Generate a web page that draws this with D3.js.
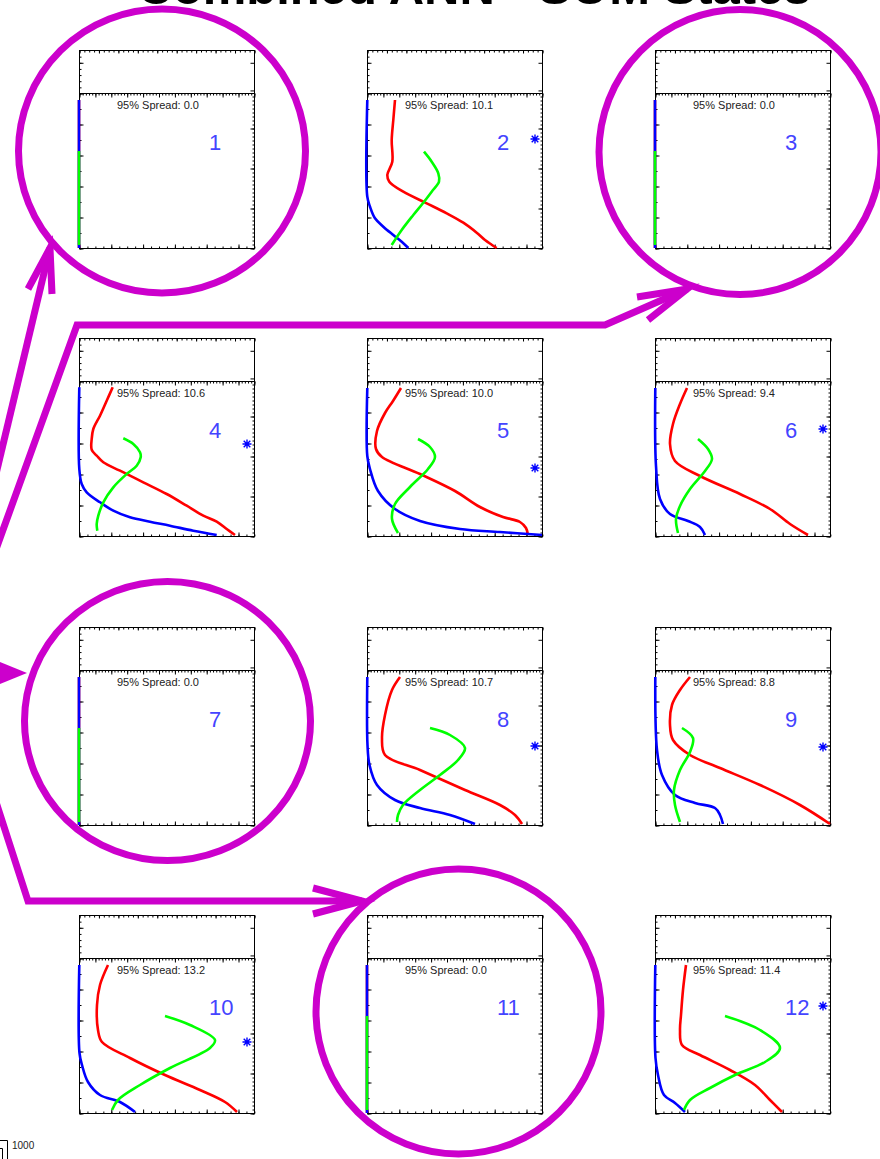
<!DOCTYPE html>
<html><head><meta charset="utf-8">
<script src="https://cdn.jsdelivr.net/npm/d3@7"></script>
<style>body{margin:0;background:#fff}svg{display:block}</style>
</head><body>
<script>
// ---------------- data ----------------
const titleText = "Combined ANN - SOM States";
const panelNumbers = [1,2,3,4,5,6,7,8,9,10,11,12];
const spreadValues = [0.0,10.1,0.0,10.6,10.0,9.4,0.0,10.7,8.8,13.2,0.0,11.4];
const markerHeights = [null,10.9,null,9.2,6.8,10.7,null,7.9,7.8,7.1,null,10.7];
const markerX = 16.8;
const xDomain = [0,17.5];
const yDomain = [0,15.5];
const topBoxDomain = [0,7];
const cornerLabel = "1000";

const flatRed = [[0,14.8],[0,0]];
const flatBlue = [[0,14.8],[0,0]];
const flatGreen = [[0,9.7],[0,0.3]];

const redProfiles = [
  flatRed,
  [[2.8,14.8],[2.63,12.8],[2.47,10.8],[2.53,8.63],[2.03,7.3],[2.23,6.63],[3.63,5.63],[5.97,4.47],[7.97,3.47],[9.63,2.53],[10.97,1.53],[11.8,0.8],[12.47,0.33],[12.97,0]],
  flatRed,
  [[3.37,14.87],[2.77,13.53],[2.1,12.03],[1.43,10.7],[1.27,9.7],[1.27,8.63],[1.77,8.03],[2.43,7.37],[4.1,6.53],[6.43,5.37],[8.77,4.2],[10.77,3.03],[12.43,2.03],[13.77,1.43],[14.77,0.7],[15.6,0.1]],
  [[3.4,14.8],[2.6,13.5],[1.8,12.3],[1.0,10.5],[0.9,8.7],[1.5,7.9],[5.3,6.2],[8.8,4.5],[11.3,2.9],[13.6,1.9],[15.3,1.4],[15.9,0.8],[16.1,0.1]],
  [[3.2,14.8],[2.5,13.2],[1.8,11.2],[1.5,9.2],[2.0,7.5],[4.5,6.0],[8.5,4.2],[11.5,2.7],[13.5,1.2],[15.3,0.1]],
  flatRed,
  [[3.3,14.8],[2.5,13.5],[1.8,11.0],[1.5,8.7],[1.8,7.0],[5.3,5.5],[9.8,3.5],[13.3,2.0],[14.8,1.0],[15.5,0.1]],
  [[3.5,14.8],[2.5,13.5],[1.7,12.0],[1.5,10.0],[1.8,8.5],[3.5,7.0],[6.5,5.7],[10.5,4.0],[14.5,2.0],[17.5,0.1]],
  [[2.9,14.8],[2.1,12.8],[1.8,10.8],[1.9,8.3],[2.3,7.1],[5.1,5.5],[8.6,3.8],[12.1,2.3],[14.6,1.1],[15.8,0.1]],
  flatRed,
  [[3.1,14.8],[2.8,12.3],[2.6,9.8],[2.5,8.3],[2.7,6.8],[4.5,5.8],[7.5,4.3],[10.0,2.8],[11.5,1.3],[12.7,0.1]]
];

const blueProfiles = [
  flatBlue,
  [[0.03,14.8],[0.03,5.13],[0.3,4.13],[0.8,2.97],[1.63,2.13],[2.63,1.3],[3.47,0.63],[4.13,0]],
  flatBlue,
  [[0.03,14.87],[0.03,6.7],[0.27,5.2],[0.77,4.37],[2.1,3.37],[3.43,2.53],[5.1,1.87],[7.1,1.43],[9.1,1.03],[11.43,0.53],[13.77,0.1]],
  [[0.03,14.8],[0.03,8.0],[0.3,6.7],[1.1,4.5],[2.8,2.7],[5.3,1.5],[9.3,0.7],[13.3,0.4],[17.5,0.1]],
  [[0.03,14.8],[0.1,7.0],[0.5,3.7],[1.5,2.2],[3.3,1.5],[4.5,0.9],[5.0,0.1]],
  flatBlue,
  [[0.03,14.8],[0.05,8.0],[0.25,6.0],[1.0,4.0],[2.8,2.5],[5.3,1.7],[8.3,1.0],[10.8,0.1]],
  [[0.03,14.8],[0.2,7.5],[0.7,5.0],[2.0,3.0],[4.0,2.2],[6.0,1.7],[6.5,1.0],[6.8,0.1]],
  [[0.03,14.8],[0.05,6.0],[0.3,4.8],[0.9,3.1],[2.1,1.8],[4.1,1.1],[5.6,0.1]],
  flatBlue,
  [[0.03,14.8],[0.05,5.5],[0.3,3.8],[0.9,1.8],[2.0,1.0],[3.0,0.1]]
];

const greenProfiles = [
  flatGreen,
  [[5.7,9.63],[6.47,8.63],[7.13,7.47],[7.2,6.63],[6.47,5.63],[5.63,4.53],[4.63,3.3],[3.47,1.8],[2.47,0.3]],
  flatGreen,
  [[4.43,9.77],[5.43,9.2],[6.1,8.37],[6.17,7.87],[5.77,7.03],[4.77,6.2],[3.43,4.87],[2.43,3.37],[1.93,2.03],[1.77,1.2],[1.83,0.53]],
  [[5.1,9.7],[6.3,8.9],[6.8,7.9],[6.1,6.7],[4.3,4.9],[2.8,3.2],[2.5,1.7],[3.1,0.3]],
  [[4.3,9.7],[5.3,8.7],[5.7,7.7],[5.0,6.5],[3.5,4.7],[2.5,3.0],[2.1,1.7],[2.3,0.3]],
  flatGreen,
  [[6.3,9.7],[8.3,9.0],[9.8,7.7],[9.1,6.5],[7.3,5.0],[5.3,3.5],[3.6,2.0],[3.1,1.0],[3.0,0.3]],
  [[2.7,9.7],[3.8,8.7],[3.5,7.3],[2.5,5.5],[1.9,3.5],[2.0,2.0],[2.5,0.3]],
  [[8.6,9.7],[11.1,8.8],[13.6,7.3],[13.1,6.5],[9.1,4.5],[6.1,2.8],[3.9,1.3],[3.3,0.3]],
  flatGreen,
  [[7.0,9.7],[10.5,8.3],[12.5,6.5],[11.0,5.1],[8.0,3.8],[5.5,2.5],[3.5,1.3],[2.9,0.3]]
];

// ---------------- layout ----------------
const W = 880, H = 1159;
const PW = 175, PH = 155, TH = 43;
const colLeft = c => 79 + 288 * c;
const rowTop = r => 93 + 288.4 * r;
const MAG = "#cc00cc";

const svg = d3.select("body").append("svg").attr("width", W).attr("height", H)
  .style("font-family", "'Liberation Sans', Arial, Helvetica, sans-serif");

svg.append("text").attr("x", 474).attr("y", 4).attr("text-anchor", "middle")
  .attr("font-size", 49).attr("font-weight", "bold").attr("fill", "#000").text(titleText);

function tickAxis(g, axisFn, scale, values, size) {
  const ax = axisFn(scale).tickValues(values).tickSizeInner(size).tickSizeOuter(0).tickFormat("");
  g.call(ax);
  g.select(".domain").remove();
  g.selectAll(".tick line").attr("stroke", "#000").attr("stroke-width", 1);
}
const rng = (a, b, s) => d3.range(a, b + 1e-6, s);

const line = d3.line().curve(d3.curveCatmullRom.alpha(0.5));

panelNumbers.forEach((num, i) => {
  const c = i % 3, r = Math.floor(i / 3);
  const left = colLeft(c), top = Math.round(rowTop(r));
  const x = d3.scaleLinear(xDomain, [left, left + PW]);
  const y = d3.scaleLinear(yDomain, [top + PH, top]);
  const yt = d3.scaleLinear(topBoxDomain, [top, top - TH]);
  const g = svg.append("g");

  // frames
  g.append("rect").attr("x", left + 0.5).attr("y", top - TH + 0.5).attr("width", PW).attr("height", TH)
    .attr("fill", "none").attr("stroke", "#000");
  g.append("rect").attr("x", left + 0.5).attr("y", top + 0.5).attr("width", PW).attr("height", PH)
    .attr("fill", "none").attr("stroke", "#000");

  // main box ticks
  tickAxis(g.append("g").attr("transform", `translate(0.5,${top + PH + 0.5})`), d3.axisBottom, x, rng(0, 17.5, 0.795), -2);
  tickAxis(g.append("g").attr("transform", `translate(0.5,${top + PH + 0.5})`), d3.axisBottom, x, rng(0, 17.5, 3.18), -4);
  tickAxis(g.append("g").attr("transform", `translate(0.5,${top + 0.5})`), d3.axisTop, x, rng(0, 17.5, 0.318), -2);
  tickAxis(g.append("g").attr("transform", `translate(0.5,${top + 0.5})`), d3.axisTop, x, rng(0, 17.5, 1.59), -4);
  tickAxis(g.append("g").attr("transform", `translate(${left + 0.5},0.5)`), d3.axisLeft, y, rng(0, 15.5, 1.55), -2);
  tickAxis(g.append("g").attr("transform", `translate(${left + 0.5},0.5)`), d3.axisLeft, y, rng(0, 15.5, 3.1), -4);
  tickAxis(g.append("g").attr("transform", `translate(${left + PW + 0.5},0.5)`), d3.axisRight, y, rng(0, 15.5, 0.4), -2);
  tickAxis(g.append("g").attr("transform", `translate(${left + PW + 0.5},0.5)`), d3.axisRight, y, rng(0, 15.5, 4.0), -4);
  // top box ticks
  tickAxis(g.append("g").attr("transform", `translate(0.5,${top - TH + 0.5})`), d3.axisTop, x, rng(0, 17.5, 0.486), -2);
  tickAxis(g.append("g").attr("transform", `translate(0.5,${top - TH + 0.5})`), d3.axisTop, x, rng(0, 17.5, 1.944), -3);
  tickAxis(g.append("g").attr("transform", `translate(${left + 0.5},0.5)`), d3.axisLeft, yt, rng(1, 6, 1), -2);
  tickAxis(g.append("g").attr("transform", `translate(${left + 0.5},0.5)`), d3.axisLeft, yt, [5], -4);
  tickAxis(g.append("g").attr("transform", `translate(${left + PW + 0.5},0.5)`), d3.axisRight, yt, [0.5, 5], -4);

  // profiles
  const lines = [[redProfiles[i], "#ff0000"], [blueProfiles[i], "#0000ff"], [greenProfiles[i], "#00ff00"]];
  lines.forEach(([pts, col]) => {
    g.append("path").attr("d", line(pts.map(p => [x(p[0]), y(p[1])])))
      .attr("fill", "none").attr("stroke", col).attr("stroke-width", 2.6)
      .attr("stroke-linejoin", "round").attr("stroke-linecap", "butt");
  });

  // spread text
  g.append("text").attr("x", left + 38).attr("y", top + 15.5).attr("font-size", 11)
    .attr("fill", "#222").text(`95% Spread: ${spreadValues[i].toFixed(1)}`);
  // panel number
  g.append("text").attr("x", left + 130).attr("y", top + 57).attr("font-size", 22)
    .attr("fill", "#4444ff").text(num);
  // marker
  if (markerHeights[i] !== null) {
    const mx = x(markerX), my = y(markerHeights[i]), s = 4.5, d = 3.3;
    g.append("path")
      .attr("d", `M${mx - s},${my}H${mx + s}M${mx},${my - s}V${my + s}M${mx - d},${my - d}L${mx + d},${my + d}M${mx - d},${my + d}L${mx + d},${my - d}`)
      .attr("stroke", "#0000ff").attr("stroke-width", 1.4).attr("fill", "none");
  }
});

// corner fragment
svg.append("path").attr("d", "M0,1140.5H7.5V1159M0,1148.5H2.5V1159").attr("fill", "none").attr("stroke", "#000").attr("stroke-width", 1);
svg.append("text").attr("x", 12).attr("y", 1149).attr("font-size", 10).attr("fill", "#222").text(cornerLabel);

// ---------------- magenta annotations ----------------
const ann = svg.append("g").attr("fill", "none").attr("stroke", MAG).attr("stroke-width", 7);
const ellipses = [[162, 151, 143.5, 142], [740, 152, 141, 142.5], [167.5, 721, 143, 139.5], [458.5, 1011.5, 142.5, 142.5]];
ellipses.forEach(([cx, cy, rx, ry]) => ann.append("ellipse").attr("cx", cx).attr("cy", cy).attr("rx", rx).attr("ry", ry));

const pl = d3.line();
const arrows = [
  [[-5, 478], [50, 248]],
  [[28, 289], [50, 248], [52, 294]],
  [[-5, 552], [77, 325], [605, 325], [687, 289]],
  [[637, 297], [687, 289], [648, 320]],
  [[-5, 799], [28, 901], [362, 901]],
  [[313, 888], [362, 901], [313, 914]]
];
arrows.forEach(pts => ann.append("path").attr("d", pl(pts)).attr("stroke-linejoin", "miter").attr("stroke-miterlimit", 10));
svg.append("path").attr("d", pl([[-10, 658], [27, 673], [-10, 688]]) + "Z").attr("fill", MAG).attr("stroke", "none");
</script>
</body></html>
